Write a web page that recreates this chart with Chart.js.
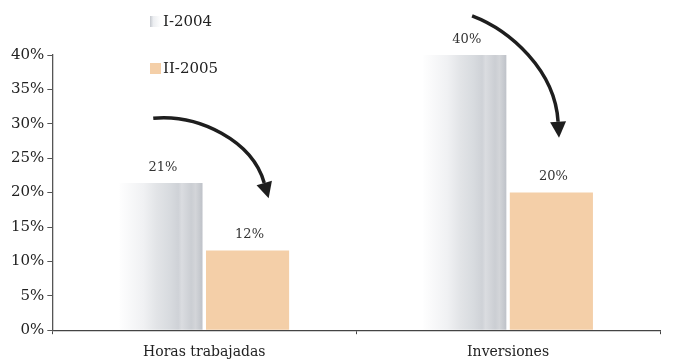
<!DOCTYPE html>
<html>
<head>
<meta charset="utf-8">
<script src="https://cdn.jsdelivr.net/npm/chart.js@4"></script>
<style>
  body { margin: 0; background: #fff; overflow: hidden; }
  #wrap { width: 680px; height: 360px; }
</style>
</head>
<body>
<div id="wrap"><canvas id="grafico"></canvas></div>
<script>
// datos
const categorias = ["Horas trabajadas", "Inversiones"];
const series = ["I-2004", "II-2005"];
const valores2004 = [21.4, 40];
const valores2005 = [11.6, 20];
const ticksY = [0, 5, 10, 15, 20, 25, 30, 35, 40];

const FUENTE = "'DejaVu Serif', serif";
const DURAZNO = "#f4cfa8";

// degradado gris de las barras del 2004 (con algunas rayas)
function degradadoGris(ctx, x0, x1) {
  const g = ctx.createLinearGradient(x0, 0, x1, 0);
  g.addColorStop(0, "#ffffff");
  g.addColorStop(0.3, "#f0f1f3");
  g.addColorStop(0.45, "#e2e4e7");
  g.addColorStop(0.6, "#d8dbdf");
  g.addColorStop(0.7, "#cfd2d7");
  g.addColorStop(0.74, "#dadce0");
  g.addColorStop(0.85, "#cbced3");
  g.addColorStop(0.9, "#d3d5d9");
  g.addColorStop(1, "#b9bdc4");
  return g;
}

function fondoGris(context) {
  const chart = context.chart;
  const x = chart.scales.x;
  if (!x || !chart.chartArea) return "#d0d3d8";
  const ancho = (x.width / categorias.length) * 0.57;
  const c = x.getPixelForValue(context.dataIndex);
  return degradadoGris(chart.ctx, c - ancho / 2, c);
}

// etiquetas de valores encima de las barras
const etiquetas = {
  id: "etiquetas",
  afterDatasetsDraw(chart) {
    const ctx = chart.ctx;
    ctx.save();
    ctx.font = "13px " + FUENTE;
    ctx.fillStyle = "#333";
    ctx.textAlign = "center";
    ctx.textBaseline = "bottom";
    chart.data.datasets.forEach((ds, i) => {
      chart.getDatasetMeta(i).data.forEach((bar, j) => {
        ctx.fillText(Math.round(ds.data[j]) + "%", bar.x + 2, bar.y - 9);
      });
    });
    ctx.restore();
  }
};

// leyenda vertical arriba a la izquierda
const leyenda = {
  id: "leyenda",
  afterDraw(chart) {
    const ctx = chart.ctx;
    ctx.save();
    ctx.font = "15px " + FUENTE;
    ctx.textBaseline = "middle";
    const filas = [22, 69];
    series.forEach((s, i) => {
      const y = filas[i];
      if (i === 0) {
        const g = ctx.createLinearGradient(150, 0, 161, 0);
        g.addColorStop(0, "#c4c8ce");
        g.addColorStop(0.3, "#eceef1");
        g.addColorStop(1, "#ffffff");
        ctx.fillStyle = g;
      } else {
        ctx.fillStyle = DURAZNO;
      }
      ctx.fillRect(150, y - 6, 11, 11);
      ctx.fillStyle = "#222";
      ctx.fillText(s, 163, y);
    });
    ctx.restore();
  }
};

// flechas curvas (decoracion)
function flecha(ctx, p0, c1, c2, p1) {
  ctx.beginPath();
  ctx.moveTo(p0[0], p0[1]);
  ctx.bezierCurveTo(c1[0], c1[1], c2[0], c2[1], p1[0], p1[1]);
  ctx.stroke();
  const ang = Math.atan2(p1[1] - c2[1], p1[0] - c2[0]);
  const largo = 16, medio = 8;
  const tx = p1[0] + Math.cos(ang) * largo;
  const ty = p1[1] + Math.sin(ang) * largo;
  ctx.beginPath();
  ctx.moveTo(tx, ty);
  ctx.lineTo(p1[0] + Math.cos(ang + Math.PI / 2) * medio, p1[1] + Math.sin(ang + Math.PI / 2) * medio);
  ctx.lineTo(p1[0] - Math.cos(ang + Math.PI / 2) * medio, p1[1] - Math.sin(ang + Math.PI / 2) * medio);
  ctx.closePath();
  ctx.fill();
}

const flechas = {
  id: "flechas",
  afterDraw(chart) {
    const ctx = chart.ctx;
    const x = chart.scales.x, y = chart.scales.y;
    const c0 = x.getPixelForValue(0), c1 = x.getPixelForValue(1);
    ctx.save();
    ctx.strokeStyle = "#1e1e1e";
    ctx.fillStyle = "#1e1e1e";
    ctx.lineWidth = 3.5;
    flecha(ctx,
      [c0 - 51, y.getPixelForValue(30.8)],
      [c0 - 5, y.getPixelForValue(31.4)],
      [c0 + 48, y.getPixelForValue(27.5)],
      [c0 + 60, y.getPixelForValue(21.4)]);
    flecha(ctx,
      [c1 - 36, y.getPixelForValue(45.7)],
      [c1 + 2, y.getPixelForValue(43.6)],
      [c1 + 47, y.getPixelForValue(37.8)],
      [c1 + 50, y.getPixelForValue(30.3)]);
    ctx.restore();
  }
};

new Chart(document.getElementById("grafico"), {
  type: "bar",
  data: {
    labels: categorias,
    datasets: [
      { label: series[0], data: valores2004, backgroundColor: fondoGris },
      { label: series[1], data: valores2005, backgroundColor: DURAZNO }
    ]
  },
  options: {
    responsive: true,
    maintainAspectRatio: false,
    animation: false,
    categoryPercentage: 0.57,
    barPercentage: 0.96,
    layout: { padding: { top: 55, left: 8, right: 20, bottom: -11 } },
    plugins: { legend: { display: false }, tooltip: { enabled: false } },
    scales: {
      x: {
        grid: { offset: true, drawOnChartArea: false, tickLength: 4, color: "#444" },
        border: { color: "#444", width: 1.3 },
        ticks: { font: { family: FUENTE, size: 14 }, color: "#222", padding: 10 }
      },
      y: {
        min: 0,
        max: 40,
        afterBuildTicks: axis => { axis.ticks = ticksY.map(v => ({ value: v })); },
        grid: { drawOnChartArea: false, tickLength: 5, color: "#555" },
        border: { color: "#555", width: 1.3 },
        ticks: {
          font: { family: FUENTE, size: 15 },
          color: "#222",
          padding: 3,
          callback: v => v + "%"
        }
      }
    }
  },
  plugins: [etiquetas, leyenda, flechas]
});
</script>
</body>
</html>
